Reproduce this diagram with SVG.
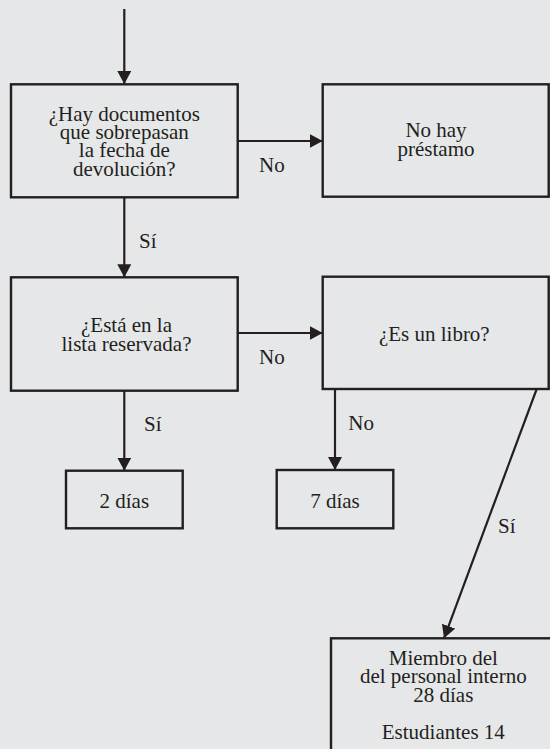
<svg xmlns="http://www.w3.org/2000/svg" width="550" height="749" viewBox="0 0 550 749">
<defs>
<style>
.bg{fill:#e6e7e8}
.box{fill:#e6e7e8;stroke:#231f20;stroke-width:2.4}
.ln{fill:none;stroke:#231f20;stroke-width:2.2}
.t{font-family:'Liberation Serif','DejaVu Serif',serif;font-size:21px;fill:#231f20}
.c{text-anchor:middle}
</style>
<marker id="ah" markerUnits="userSpaceOnUse" markerWidth="13" markerHeight="14" viewBox="0 0 13 14" refX="13" refY="7" orient="auto">
<path d="M0,0 L13,7 L0,14 z" fill="#231f20"/>
</marker>
</defs>
<rect class="bg" x="0" y="0" width="550" height="749"/>

<g id="connectors">
<line class="ln" x1="124.3" y1="9" x2="124.3" y2="84" marker-end="url(#ah)"/>
<line class="ln" x1="237.7" y1="141" x2="322.7" y2="141" marker-end="url(#ah)"/>
<line class="ln" x1="124.3" y1="197.3" x2="124.3" y2="277.3" marker-end="url(#ah)"/>
<line class="ln" x1="237.7" y1="333" x2="322.7" y2="333" marker-end="url(#ah)"/>
<line class="ln" x1="124.3" y1="390.7" x2="124.3" y2="470.7" marker-end="url(#ah)"/>
<line class="ln" x1="335" y1="389" x2="335" y2="470" marker-end="url(#ah)"/>
<line class="ln" x1="536.7" y1="389" x2="444" y2="638.3" marker-end="url(#ah)"/>
<g class="t" font-family="Liberation Serif, DejaVu Serif, serif">
<text x="259" y="171.7">No</text>
<text x="139" y="248.3">Sí</text>
<text x="259" y="364">No</text>
<text x="144" y="430.7">Sí</text>
<text x="348.3" y="430">No</text>
<text x="498" y="532.7">Sí</text>
</g>
</g>

<g id="n1" class="t" font-family="Liberation Serif, DejaVu Serif, serif">
<rect class="box" x="11" y="84.3" width="226.7" height="113"/>
<text class="c" x="124.3" y="120.7">¿Hay documentos</text>
<text class="c" x="124.3" y="138.8">que sobrepasan</text>
<text class="c" x="124.3" y="156.9">la fecha de</text>
<text class="c" x="124.3" y="175.5">devolución?</text>
</g>

<g id="n2" class="t" font-family="Liberation Serif, DejaVu Serif, serif">
<rect class="box" x="322.7" y="84.3" width="226" height="112.4"/>
<text class="c" x="436" y="137">No hay</text>
<text class="c" x="436" y="156">préstamo</text>
</g>

<g id="n3" class="t" font-family="Liberation Serif, DejaVu Serif, serif">
<rect class="box" x="11" y="277.3" width="226.7" height="113.4"/>
<text class="c" x="126.5" y="332.3">¿Está en la</text>
<text class="c" x="126.5" y="350.7">lista reservada?</text>
</g>

<g id="n4" class="t" font-family="Liberation Serif, DejaVu Serif, serif">
<rect class="box" x="322.7" y="276.7" width="226" height="112.3"/>
<text class="c" x="434.3" y="341">¿Es un libro?</text>
</g>

<g id="n5" class="t" font-family="Liberation Serif, DejaVu Serif, serif">
<rect class="box" x="66" y="470.7" width="116.7" height="57.6"/>
<text class="c" x="124.3" y="508.3">2 días</text>
</g>

<g id="n6" class="t" font-family="Liberation Serif, DejaVu Serif, serif">
<rect class="box" x="276.7" y="470" width="116.6" height="58.3"/>
<text class="c" x="335" y="508">7 días</text>
</g>

<g id="n7" class="t" font-family="Liberation Serif, DejaVu Serif, serif">
<rect class="box" x="331" y="638.3" width="240" height="140"/>
<text class="c" x="443.3" y="665">Miembro del</text>
<text class="c" x="443.3" y="683.3">del personal interno</text>
<text class="c" x="443.3" y="701.7">28 días</text>
<text class="c" x="443.3" y="739.3">Estudiantes 14</text>
</g>
</svg>
